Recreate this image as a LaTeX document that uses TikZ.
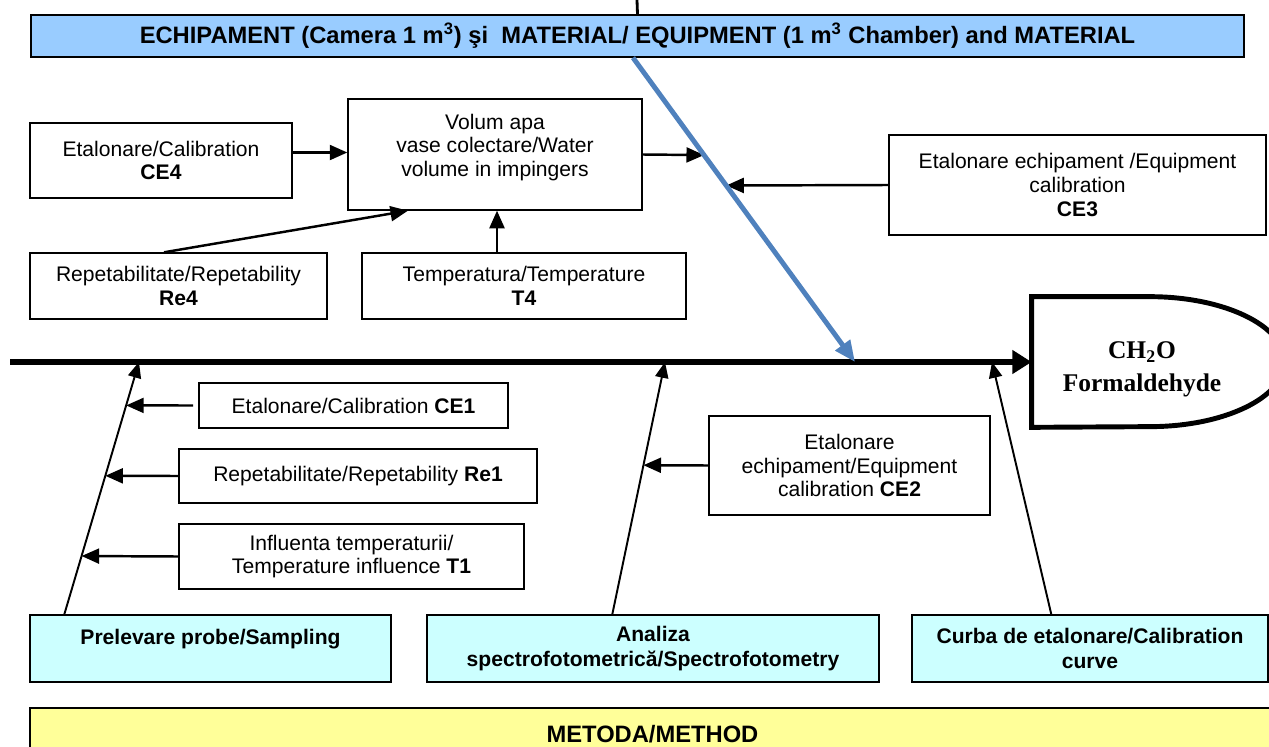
\documentclass[tikz,border=0pt]{standalone}
\usepackage{fontspec}
\setmainfont{Liberation Sans}
\newfontfamily\timesfont{Liberation Serif}
\usetikzlibrary{arrows.meta,calc,positioning}
\definecolor{headblue}{HTML}{99CCFF}
\definecolor{causecyan}{HTML}{CCFFFF}
\definecolor{methyellow}{HTML}{FFFF99}
\definecolor{linkblue}{HTML}{4F81BD}

\begin{document}
\begin{tikzpicture}[
    x=0.02cm, y=-0.02cm,
    box/.style={draw, line width=0.8pt, fill=white, align=center, inner sep=0pt, font=\fontsize{12}{13.6}\selectfont},
    head/.style={draw, line width=0.8pt, align=center, inner sep=0pt, font=\bfseries\fontsize{13.5}{16}\selectfont},
    cause/.style={draw, line width=0.8pt, fill=causecyan, align=center, inner sep=0pt, minimum height=1.34cm, font=\bfseries\fontsize{12}{14.2}\selectfont},
    conn/.style={-{Triangle[length=10pt,width=8.5pt]}, line width=1.4pt},
    bone/.style={-{Triangle[length=9pt,width=7.5pt]}, line width=1.1pt},
    spine/.style={-{Triangle[length=11pt,width=13pt]}, line width=3pt},
    blueline/.style={-{Triangle[length=12pt,width=10pt]}, line width=2.8pt, draw=linkblue},
    outline/.style={line width=2.8pt}
]
\clip (0,0) rectangle (1269,747);

% --- Header: equipment ---
\node[head, fill=headblue, minimum width=24.26cm, minimum height=0.84cm] (equip) at (637.5,36)
    {ECHIPAMENT (Camera 1 m\textsuperscript{3}) şi \ MATERIAL/ EQUIPMENT (1 m\textsuperscript{3} Chamber) and MATERIAL};
\coordinate (top0) at (637,0);

% --- Upper causes ---
\node[box, minimum width=5.24cm, minimum height=1.5cm] (ce4) at (161,160.5) {Etalonare/Calibration\\\textbf{CE4}};
\node[box, minimum width=5.88cm, minimum height=2.22cm, text depth=10.5pt] (vol) at (495,154.5) {Volum apa\\vase colectare/Water\\volume in impingers};
\node[box, minimum width=7.54cm, minimum height=2cm] (ce3) at (1077.5,185) {Etalonare echipament /Equipment\\calibration\\\textbf{CE3}};
\node[box, minimum width=5.94cm, minimum height=1.32cm] (re4) at (178.5,286) {Repetabilitate/Repetability\\\textbf{Re4}};
\node[box, minimum width=6.48cm, minimum height=1.32cm] (t4) at (524,286) {Temperatura/Temperature\\\textbf{T4}};

% --- Effect ---
\node[minimum width=4.4cm, minimum height=2.6cm, inner sep=0pt,
    label={[yshift=-0.14cm, align=center, font=\timesfont\bfseries\fontsize{14.5}{18.7}\selectfont]center:CH\textsubscript{2}O\\Formaldehyde}] (ch) at (1142,362) {};
\coordinate (spine0) at (10,362);
\coordinate (j1) at (139,362);
\coordinate (j2) at (665,362);
\coordinate (j3) at (992,362);
\coordinate (jb) at (855,362);

% --- Lower causes ---
\node[box, minimum width=6.18cm, minimum height=0.9cm] (ce1) at (353.5,405.5) {Etalonare/Calibration \textbf{CE1}};
\node[box, minimum width=7.16cm, minimum height=1.08cm] (re1) at (358,476) {Repetabilitate/Repetability \textbf{Re1}};
\node[box, minimum width=6.9cm, minimum height=1.3cm] (t1) at (351.5,556.5) {Influenta temperaturii/\\Temperature influence \textbf{T1}};
\node[box, minimum width=5.62cm, minimum height=1.98cm] (ce2) at (849.5,465.5) {Etalonare\\echipament/Equipment\\calibration \textbf{CE2}};

% --- Method row ---
\node[cause, minimum width=7.22cm, text depth=13.8pt] (prel) at (210.5,648.5) {Prelevare probe/Sampling};
\node[cause, minimum width=9.04cm] (anal) at (653,648.5) {Analiza\\spectrofotometrică/Spectrofotometry};
\node[cause, minimum width=7.12cm] (curba) at (1090,648.5) {Curba de etalonare/Calibration\\curve};
\node[head, fill=methyellow, minimum width=24.9cm, minimum height=1.04cm] (meth) at (652.5,734) {METODA/METHOD};

% bone feet and arrow tips
\coordinate (f1) at ([xshift=0.7cm]prel.north west);
\coordinate (f2) at ([xshift=3.72cm]anal.north west);
\coordinate (f3) at ([xshift=2.8cm]curba.north west);
\coordinate (bs) at ([xshift=-0.09cm]equip.south);
\coordinate (a1) at ($(f1)!0.828!(j1)$);
\coordinate (a2) at ($(f1)!0.549!(j1)$);
\coordinate (a3) at ($(f1)!0.231!(j1)$);
\coordinate (a4) at ($(f2)!0.591!(j2)$);
\coordinate (v1) at ($(bs)!0.32!(jb)$);
\coordinate (v2) at ($(bs)!0.42!(jb)$);

% === CONNECTIONS ===
\draw[line width=1.6pt] (equip.north) -- (top0);

% upper branch
\draw[conn] ([yshift=0.16cm]ce4.east) -- ([yshift=0.16cm]ce4.east -| vol.west);
\draw[conn] ([xshift=-0.29cm]re4.north) -- ([xshift=-1.74cm]vol.south);
\draw[conn] ([xshift=-0.54cm]t4.north) -- ([xshift=-0.54cm]t4.north |- vol.south);
\draw[conn] (vol.east) -- (v1);
\draw[conn] (ce3.west) -- (v2);

% spine and bones
\draw[spine] (spine0) -- (ch.west);
\draw[bone] (f1) -- (j1);
\draw[bone] (f2) -- (j2);
\draw[bone] (f3) -- (j3);
\draw[conn] ([xshift=-3pt]ce1.west) -- (a1);
\draw[conn] (re1.west) -- (a2);
\draw[conn] (t1.west) -- (a3);
\draw[conn] (ce2.west) -- (a4);

% equipment branch
\draw[blueline] (bs) -- (jb);

% effect outline
\draw[outline] (ch.north west) -- ([xshift=2.36cm]ch.north west)
    arc[start angle=90, end angle=-90, x radius=2.7cm, y radius=1.3cm] -- (ch.south west) -- cycle;
\end{tikzpicture}
\end{document}
